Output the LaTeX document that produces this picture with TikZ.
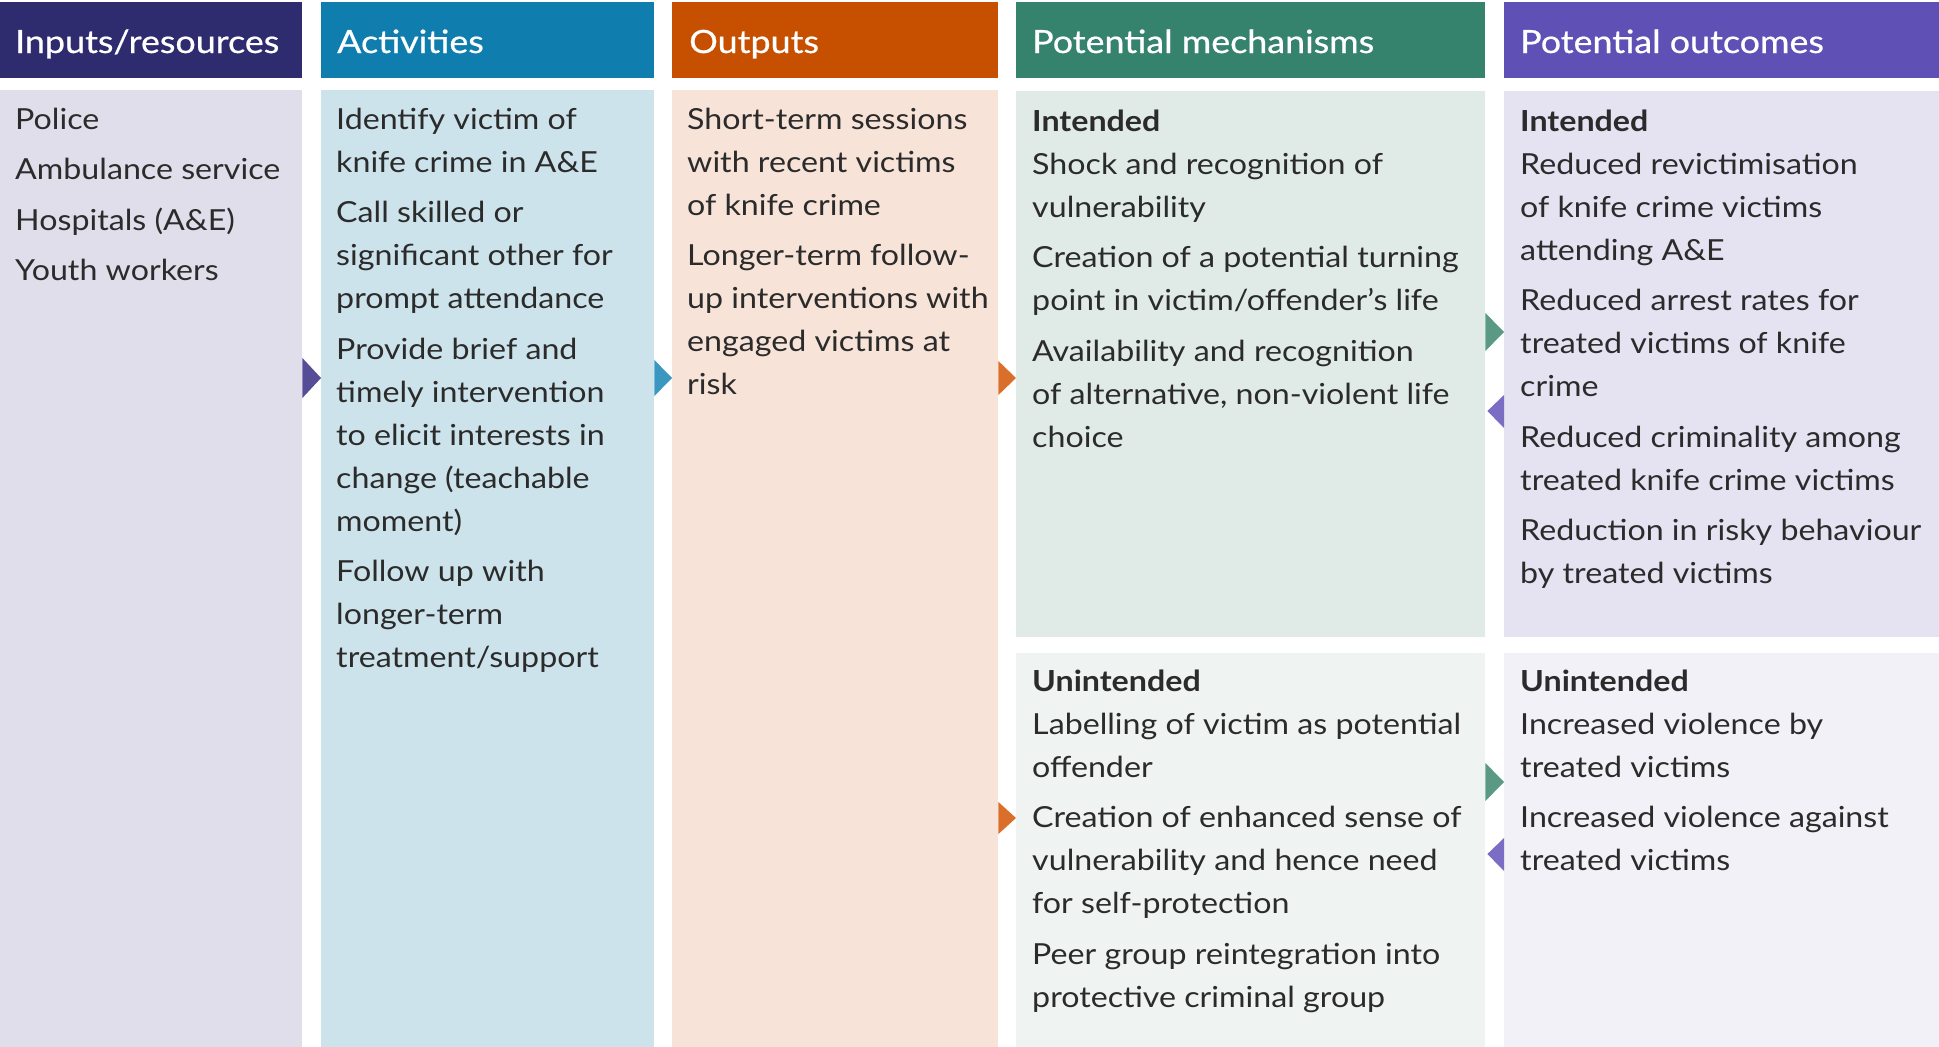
\documentclass[tikz,border=0pt]{standalone}
\usepackage{fontspec}
\setmainfont{Lato}[FakeStretch=1.11]
\newfontfamily\headfont{Lato}[FakeStretch=1.12,FakeBold=0.6]
\definecolor{h1}{HTML}{2E2B6E}
\definecolor{h2}{HTML}{0F7DAE}
\definecolor{h3}{HTML}{C65000}
\definecolor{h4}{HTML}{35836C}
\definecolor{h5}{HTML}{5F50B5}
\definecolor{b1}{HTML}{E0DEEA}
\definecolor{b2}{HTML}{CDE3EB}
\definecolor{b3}{HTML}{F7E3D8}
\definecolor{b4i}{HTML}{E0EAE7}
\definecolor{b4u}{HTML}{EFF3F2}
\definecolor{b5i}{HTML}{E5E2F2}
\definecolor{b5u}{HTML}{F2F1F8}
\definecolor{a1}{HTML}{554E97}
\definecolor{a2}{HTML}{3A97BF}
\definecolor{a3}{HTML}{D96F2B}
\definecolor{a4}{HTML}{5A9A85}
\definecolor{a5}{HTML}{7B6DC3}
\definecolor{textc}{HTML}{2B2B2B}
\newcommand{\coltext}[1]{\parbox[t]{470pt}{\raggedright\fontsize{29}{43}\selectfont\setlength{\parskip}{7.5pt}\setlength{\parindent}{0pt}#1}}
\begin{document}
\begin{tikzpicture}[x=1pt,y=-1pt,
  panel/.style={draw=none,inner sep=0,anchor=north west,rectangle},
  headtext/.style={anchor=base west,inner sep=0,text=white,font=\headfont\fontsize{32}{38}\selectfont},
  bodytext/.style={anchor=base west,inner sep=0,text=textc}]
\fill[white] (0,0) rectangle (1939,1047);
\useasboundingbox (0,0) rectangle (1939,1047);
% headers
\node[panel,fill=h1,minimum width=302pt,minimum height=76pt] (h1) at (0,2) {};
\node[panel,fill=h2,minimum width=333pt,minimum height=76pt] (h2) at (321,2) {};
\node[panel,fill=h3,minimum width=326pt,minimum height=76pt] (h3) at (672,2) {};
\node[panel,fill=h4,minimum width=469pt,minimum height=76pt] (h4) at (1016,2) {};
\node[panel,fill=h5,minimum width=435pt,minimum height=76pt] (h5) at (1504,2) {};
% bodies
\node[panel,fill=b1,minimum width=302pt,minimum height=957pt] (b1) at (0,90) {};
\node[panel,fill=b2,minimum width=333pt,minimum height=957pt] (b2) at (321,90) {};
\node[panel,fill=b3,minimum width=326pt,minimum height=957pt] (b3) at (672,90) {};
\node[panel,fill=b4i,minimum width=469pt,minimum height=546pt] (b4i) at (1016,91) {};
\node[panel,fill=b4u,minimum width=469pt,minimum height=394pt] (b4u) at (1016,653) {};
\node[panel,fill=b5i,minimum width=435pt,minimum height=546pt] (b5i) at (1504,91) {};
\node[panel,fill=b5u,minimum width=435pt,minimum height=394pt] (b5u) at (1504,653) {};
% header texts
\node[headtext] (t1) at (15,53) {Inputs/resources};
\node[headtext] (t2) at (337,53) {Activities};
\node[headtext] (t3) at (689,53) {Outputs};
\node[headtext] (t4) at (1032,53) {Potential mechanisms};
\node[headtext] (t5) at (1520,53) {Potential outcomes};
% body texts
\node[bodytext] (c1) at (15,129) {\coltext{Police\par Ambulance service\par Hospitals (A\&E)\par Youth workers}};
\node[bodytext] (c2) at (336,129) {\coltext{Identify victim of\\ knife crime in A\&E\par
Call skilled or\\ significant other for\\ prompt attendance\par
Provide brief and\\ timely intervention\\ to elicit interests in\\ change (teachable\\ moment)\par
Follow up with\\ longer-term\\ treatment/support}};
\node[bodytext] (c3) at (687,129) {\coltext{Short-term sessions\\ with recent victims\\ of knife crime\par
Longer-term follow-\\ up interventions with\\ engaged victims at\\ risk}};
\node[bodytext] (c4i) at (1032,131) {\coltext{\textbf{Intended}\\ Shock and recognition of\\ vulnerability\par
Creation of a potential turning\\ point in victim/offender’s life\par
Availability and recognition\\ of alternative, non-violent life\\ choice}};
\node[bodytext] (c4u) at (1032,691) {\coltext{\textbf{Unintended}\\ Labelling of victim as potential\\ offender\par
Creation of enhanced sense of\\ vulnerability and hence need\\ for self-protection\par
Peer group reintegration into\\ protective criminal group}};
\node[bodytext] (c5i) at (1520,131) {\coltext{\textbf{Intended}\\ Reduced revictimisation\\ of knife crime victims\\ attending A\&E\par
Reduced arrest rates for\\ treated victims of knife\\ crime\par
Reduced criminality among\\ treated knife crime victims\par
Reduction in risky behaviour\\ by treated victims}};
\node[bodytext] (c5u) at (1520,691) {\coltext{\textbf{Unintended}\\ Increased violence by\\ treated victims\par
Increased violence against\\ treated victims}};
% arrows
\fill[a1] (b1.east |- 0,358) -- (b2.west |- 0,378) -- (b1.east |- 0,398) -- cycle;
\fill[a2] (b2.east |- 0,360) -- (b3.west |- 0,378) -- (b2.east |- 0,396) -- cycle;
\fill[a3] (b3.east |- 0,361) -- (b4i.west |- 0,378) -- (b3.east |- 0,395) -- cycle;
\fill[a3] (b3.east |- 0,802) -- (b4u.west |- 0,818) -- (b3.east |- 0,834) -- cycle;
\fill[a4] (b4i.east |- 0,313) -- (b5i.west |- 0,332) -- (b4i.east |- 0,351) -- cycle;
\fill[a5] (b5i.west |- 0,395) -- ([xshift=2pt]b4i.east |- 0,411) -- (b5i.west |- 0,428) -- cycle;
\fill[a4] (b4u.east |- 0,763) -- (b5u.west |- 0,782) -- (b4u.east |- 0,801) -- cycle;
\fill[a5] (b5u.west |- 0,838) -- ([xshift=2pt]b4u.east |- 0,854) -- (b5u.west |- 0,871) -- cycle;
\end{tikzpicture}
\end{document}
